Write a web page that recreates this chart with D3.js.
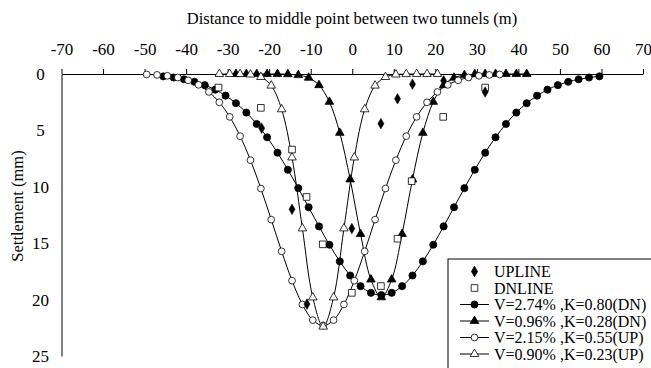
<!DOCTYPE html>
<html>
<head>
<meta charset="utf-8">
<script src="https://cdn.jsdelivr.net/npm/d3@7"></script>
<style>
  html, body { margin: 0; padding: 0; background: #fff; }
  svg { display: block; }
</style>
</head>
<body>
<svg id="chart" width="651" height="368" font-family="'Liberation Serif', 'Times New Roman', serif"></svg>
<script>
// Tick values for both axes
const xTicks = [-70, -60, -50, -40, -30, -20, -10, 0, 10, 20, 30, 40, 50, 60, 70];
const yTicks = [0, 5, 10, 15, 20, 25];

// Measured settlement (mm) at the surface points
const uplineX = [-21.8, -14.5, -10.9, -0.1, 6.9, 10.9, 14.5, 22.0, 32.0];
const uplineS = [4.8, 12.0, 20.4, 13.7, 4.4, 2.2, 0.9, 0.6, 1.6];
const dnlineX = [-32.2, -22.0, -14.5, -11.0, -7.1, -0.1, 6.9, 10.9, 14.3, 21.9, 32.0];
const dnlineS = [1.2, 3.0, 6.7, 10.9, 15.1, 19.4, 18.8, 14.6, 9.5, 3.8, 1.2];

// Fitted trough: V=2.74%, K=0.80 (DN)
const dn274X = [-45.5, -43, -40.5, -38, -35.5, -33, -30.5, -28, -25.5, -23, -20.5, -18, -15.5, -13, -10.5,
  -8, -5.5, -3, -0.5, 2, 4.5, 7, 9.5, 12, 14.5, 17, 19.5, 22, 24.5, 27, 29.5, 32, 34.5, 37, 39.5, 42,
  44.5, 47, 49.5, 52, 54.5, 57, 59.5];
const dn274S = [0.21, 0.31, 0.47, 0.69, 0.99, 1.39, 1.92, 2.59, 3.42, 4.43, 5.61, 6.98, 8.49, 10.12, 11.81,
  13.51, 15.14, 16.61, 17.86, 18.81, 19.40, 19.6, 19.40, 18.81, 17.86, 16.61, 15.14, 13.51, 11.81, 10.12,
  8.49, 6.98, 5.61, 4.43, 3.42, 2.59, 1.92, 1.39, 0.99, 0.69, 0.47, 0.31, 0.21];

// Fitted trough: V=0.96%, K=0.28 (DN)
const dn096X = [-28, -25.5, -23, -20.5, -18, -15.5, -13, -10.5, -8, -5.5, -3, -0.5, 2, 4.5, 7, 9.5, 12,
  14.5, 17, 19.5, 22, 24.5, 27, 29.5, 32, 34.5, 37, 39.5, 42];
const dn096S = [0, 0, 0, 0, 0, 0.02, 0.10, 0.33, 0.99, 2.47, 5.22, 9.35, 14.19, 18.22, 19.8, 18.22, 14.19,
  9.35, 5.22, 2.47, 0.99, 0.33, 0.10, 0.02, 0, 0, 0, 0, 0];

// Fitted trough: V=2.15%, K=0.55 (UP)
const up215X = [-49.5, -47, -44.5, -42, -39.5, -37, -34.5, -32, -29.5, -27, -24.5, -22, -19.5, -17, -14.5,
  -12, -9.5, -7, -4.5, -2, 0.5, 3, 5.5, 8, 10.5, 13, 15.5, 18, 20.5, 23, 25.5, 28, 30.5, 33, 35.5];
const up215S = [0.04, 0.08, 0.16, 0.31, 0.56, 0.96, 1.59, 2.51, 3.80, 5.51, 7.64, 10.15, 12.91, 15.72,
  18.32, 20.43, 21.82, 22.3, 21.82, 20.43, 18.32, 15.72, 12.91, 10.15, 7.64, 5.51, 3.80, 2.51, 1.59, 0.96,
  0.56, 0.31, 0.16, 0.08, 0.04];

// Fitted trough: V=0.90%, K=0.23 (UP)
const up090X = [-32, -29.5, -27, -24.5, -22, -19.5, -17, -14.5, -12, -9.5, -7, -4.5, -2, 0.5, 3, 5.5, 8,
  10.5, 13, 15.5, 18, 20.5];
const up090S = [0, 0, 0.01, 0.05, 0.27, 1.03, 3.13, 7.40, 13.69, 19.81, 22.4, 19.81, 13.69, 7.40, 3.13,
  1.03, 0.27, 0.05, 0.01, 0, 0, 0];

const legendLabels = ["UPLINE", "DNLINE", "V=2.74% ,K=0.80(DN)", "V=0.96% ,K=0.28(DN)",
  "V=2.15% ,K=0.55(UP)", "V=0.90% ,K=0.23(UP)"];

const FONT = "'Liberation Serif', 'Times New Roman', serif";
const svg = d3.select("#chart");
svg.append("rect").attr("width", 651).attr("height", 368).attr("fill", "#fff");

const x = d3.scaleLinear().domain([-70, 70]).range([61.5, 643]);
const y = d3.scaleLinear().domain([0, 25]).range([74, 356]);

// Axis titles
svg.append("text")
  .attr("x", 352).attr("y", 24)
  .attr("text-anchor", "middle")
  .attr("font-family", FONT).attr("font-size", 16.5)
  .text("Distance to middle point between two tunnels (m)");

svg.append("text")
  .attr("transform", "translate(23,206) rotate(-90)")
  .attr("text-anchor", "middle")
  .attr("font-family", FONT).attr("font-size", 16.5)
  .text("Settlement (mm)");

// Top x axis
const gx = svg.append("g").attr("transform", `translate(0,${y(0)})`)
  .call(d3.axisTop(x).tickValues(xTicks).tickSize(5).tickSizeOuter(0).tickPadding(14)
    .tickFormat(d => String(d)))
  .attr("font-family", FONT).attr("font-size", 17);
gx.selectAll("line, path").attr("stroke", "#000").attr("stroke-width", 1);

// Left y axis
const gy = svg.append("g").attr("transform", `translate(${x(-70)},0)`)
  .call(d3.axisLeft(y).tickValues(yTicks).tickSize(0).tickSizeOuter(0)
    .tickFormat(d => String(d)))
  .attr("font-family", FONT).attr("font-size", 17);
gy.selectAll("text").attr("text-anchor", "middle").attr("x", -21);
gy.selectAll("path").attr("stroke", "#000").attr("stroke-width", 1);

const line = d3.line().x(d => x(d[0])).y(d => y(d[1])).curve(d3.curveCatmullRom);
const zip = (xs, ss) => xs.map((v, i) => [v, ss[i]]);

const curves = [
  { pts: zip(dn274X, dn274S), sym: d3.symbolCircle, size: 40, fill: "#000" },
  { pts: zip(dn096X, dn096S), sym: d3.symbolTriangle, size: 32, fill: "#000" },
  { pts: zip(up215X, up215S), sym: d3.symbolCircle, size: 36, fill: "#fff" },
  { pts: zip(up090X, up090S), sym: d3.symbolTriangle, size: 32, fill: "#fff" }
];

const plot = svg.append("g");
curves.forEach(c => {
  plot.append("path").datum(c.pts).attr("d", line)
    .attr("fill", "none").attr("stroke", "#000").attr("stroke-width", 1);
});
curves.forEach(c => {
  plot.selectAll(null).data(c.pts).enter().append("path")
    .attr("transform", d => `translate(${x(d[0])},${y(d[1])})`)
    .attr("d", d3.symbol().type(c.sym).size(c.size))
    .attr("fill", c.fill).attr("stroke", "#000").attr("stroke-width", 0.8);
});

// Measured points
plot.selectAll(null).data(zip(dnlineX, dnlineS)).enter().append("path")
  .attr("transform", d => `translate(${x(d[0])},${y(d[1])})`)
  .attr("d", d3.symbol().type(d3.symbolSquare).size(44))
  .attr("fill", "#fff").attr("stroke", "#000").attr("stroke-width", 0.8);
plot.selectAll(null).data(zip(uplineX, uplineS)).enter().append("path")
  .attr("transform", d => `translate(${x(d[0])},${y(d[1])})`)
  .attr("d", d3.symbol().type(d3.symbolDiamond).size(32))
  .attr("fill", "#000").attr("stroke", "#000").attr("stroke-width", 0.5);

// Legend
const lg = svg.append("g");
lg.append("rect").attr("x", 448).attr("y", 259).attr("width", 260).attr("height", 140)
  .attr("fill", "#fff").attr("stroke", "#000").attr("stroke-width", 1);

const legendMarks = [
  { sym: d3.symbolDiamond, size: 32, fill: "#000", line: false },
  { sym: d3.symbolSquare, size: 44, fill: "#fff", line: false },
  { sym: d3.symbolCircle, size: 40, fill: "#000", line: true },
  { sym: d3.symbolTriangle, size: 32, fill: "#000", line: true },
  { sym: d3.symbolCircle, size: 36, fill: "#fff", line: true },
  { sym: d3.symbolTriangle, size: 32, fill: "#fff", line: true }
];
legendLabels.forEach((lab, i) => {
  const cy = 271.5 + i * 16.5;
  const m = legendMarks[i];
  if (m.line) {
    lg.append("line").attr("x1", 460).attr("x2", 489).attr("y1", cy).attr("y2", cy)
      .attr("stroke", "#000").attr("stroke-width", 1);
  }
  lg.append("path").attr("transform", `translate(474.5,${cy})`)
    .attr("d", d3.symbol().type(m.sym).size(m.size))
    .attr("fill", m.fill).attr("stroke", "#000").attr("stroke-width", 0.8);
  lg.append("text").attr("x", 494).attr("y", cy + 5.5)
    .attr("font-family", FONT).attr("font-size", 16)
    .text(lab);
});
</script>
</body>
</html>
